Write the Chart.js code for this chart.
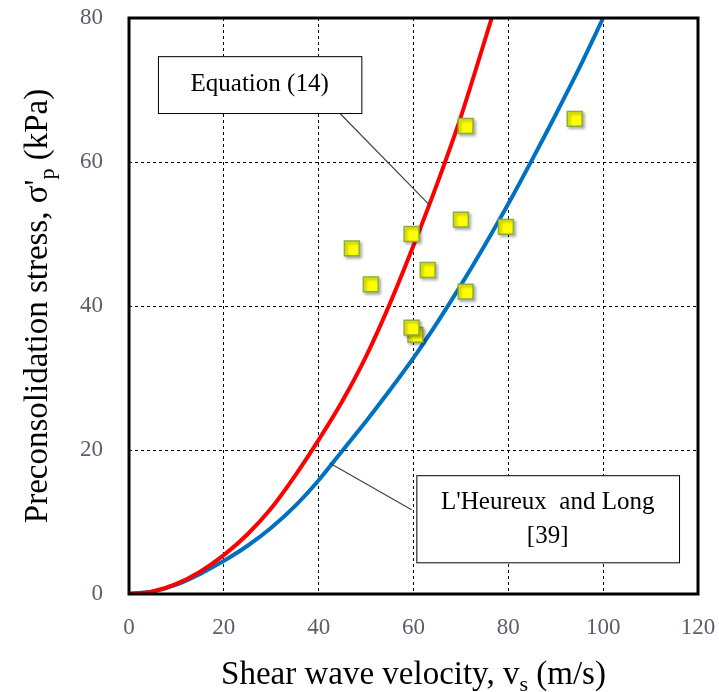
<!DOCTYPE html>
<html>
<head>
<meta charset="utf-8">
<script src="https://cdn.jsdelivr.net/npm/chart.js@4.4.1/dist/chart.umd.min.js"></script>
<style>
  html, body { margin: 0; padding: 0; background: #fff; }
  #wrap { width: 719px; height: 692px; }
</style>
</head>
<body>
<div id="wrap"><canvas id="chart" width="719" height="692"></canvas></div>
<script>
// measured points
let pointVs = [71, 94, 70, 79.5, 59.6, 47, 63, 51, 71, 60.4, 59.6];
let pointSigma = [65, 66, 52, 51, 50, 48, 45, 43, 42, 36, 37];

// Equation (14) curve
let eqVs = [0, 5, 10, 15, 20, 25, 30, 35, 40, 45, 50, 55, 60, 65, 70, 76.5];
let eqSigma = [0, 0.35, 1.4, 3.1, 5.4, 8.3, 11.9, 16.4, 21.4, 26.8, 33, 40.3, 48.4, 57, 66.3, 80];

// L'Heureux and Long curve
let lhVs = [0, 5, 10, 15, 20, 25, 30, 35, 40, 45, 50, 55, 60, 65, 70, 75, 80, 85, 90, 95, 100];
let lhSigma = [0, 0.35, 1.3, 2.8, 4.6, 6.7, 9.2, 12.2, 15.8, 19.9, 24, 28.3, 32.8, 37.7, 42.9, 48.4, 54.2, 60.3, 66.6, 73.1, 80];

let xTicks = [0, 20, 40, 60, 80, 100, 120];
let yTicks = [0, 20, 40, 60, 80];

let serif = "'Liberation Serif', 'Times New Roman', serif";
let tickColor = "#5a5e6b";

function toXY(xs, ys) {
  return xs.map((x, i) => ({ x: x, y: ys[i] }));
}

// text with a subscript, centred on x
function drawParts(ctx, parts, x, y, size, sub) {
  let total = 0;
  parts.forEach(p => {
    ctx.font = (p.sub ? sub : size) + "px " + serif;
    total += ctx.measureText(p.t).width;
  });
  let cx = x - total / 2;
  parts.forEach(p => {
    ctx.font = (p.sub ? sub : size) + "px " + serif;
    ctx.fillText(p.t, cx, y + (p.sub ? 7 : 0));
    cx += ctx.measureText(p.t).width;
  });
}

function noPad(s) {
  s.paddingLeft = 0;
  s.paddingRight = 0;
  s.paddingTop = 0;
  s.paddingBottom = 0;
}

let extras = {
  id: "extras",
  beforeDatasetDraw(chart, args) {
    if (args.index === 0) {
      let ctx = chart.ctx;
      ctx.save();
      ctx.shadowColor = "rgba(0,0,0,0.35)";
      ctx.shadowBlur = 3;
      ctx.shadowOffsetX = 2;
      ctx.shadowOffsetY = 2;
    }
  },
  afterDatasetDraw(chart, args) {
    if (args.index === 0) chart.ctx.restore();
  },
  afterDatasetsDraw(chart) {
    let ctx = chart.ctx;
    let xs = chart.scales.x, ys = chart.scales.y;
    let a = chart.chartArea;
    let px = v => xs.getPixelForValue(v);
    let py = v => ys.getPixelForValue(v);

    ctx.save();
    // leader lines
    ctx.strokeStyle = "#444";
    ctx.lineWidth = 1.2;
    ctx.beginPath();
    ctx.moveTo(px(44.4), py(66.8));
    ctx.lineTo(px(63.4), py(54.0));
    ctx.moveTo(px(42.3), py(18.2));
    ctx.lineTo(px(59.6), py(11.7));
    ctx.stroke();

    // boxes
    ctx.fillStyle = "#fff";
    ctx.strokeStyle = "#000";
    ctx.lineWidth = 1;
    let b1 = [px(6.1), py(74.7), px(49), py(66.8)];
    let b2 = [px(60.6), py(16.5), px(116), py(4.4)];
    [b1, b2].forEach(b => {
      ctx.fillRect(b[0], b[1], b[2] - b[0], b[3] - b[1]);
      ctx.strokeRect(b[0] + 0.5, b[1] + 0.5, b[2] - b[0], b[3] - b[1]);
    });
    ctx.fillStyle = "#000";
    ctx.font = "25px " + serif;
    ctx.textAlign = "center";
    ctx.textBaseline = "middle";
    ctx.fillText("Equation (14)", (b1[0] + b1[2]) / 2, (b1[1] + b1[3]) / 2);
    let c2 = (b2[0] + b2[2]) / 2, m2 = (b2[1] + b2[3]) / 2;
    ctx.fillText("L'Heureux  and Long", c2, m2 - 16);
    ctx.fillText("[39]", c2, m2 + 18);

    // plot frame
    ctx.lineWidth = 3;
    ctx.strokeRect(a.left, a.top, a.right - a.left, a.bottom - a.top);

    // axis titles with subscripts
    ctx.textAlign = "left";
    ctx.textBaseline = "alphabetic";
    drawParts(ctx, [
      { t: "Shear wave velocity, v" },
      { t: "s", sub: true },
      { t: " (m/s)" }
    ], (a.left + a.right) / 2, 684, 33, 22);

    ctx.translate(47, (a.top + a.bottom) / 2);
    ctx.rotate(-Math.PI / 2);
    drawParts(ctx, [
      { t: "Preconsolidation stress, \u03c3'" },
      { t: "p", sub: true },
      { t: " (kPa)" }
    ], 0, 0, 33, 22);
    ctx.restore();
  }
};

let chart = new Chart(document.getElementById("chart").getContext("2d"), {
  type: "scatter",
  data: {
    datasets: [
      {
        label: "Measured",
        data: toXY(pointVs, pointSigma),
        pointStyle: "rect",
        pointRadius: 10.5,
        pointHoverRadius: 10.5,
        backgroundColor: "#ffff00",
        borderColor: "#8aae3e",
        borderWidth: 1.5,
      },
      {
        label: "Equation (14)",
        data: toXY(eqVs, eqSigma),
        showLine: true,
        borderColor: "#ff0000",
        borderWidth: 4,
        pointRadius: 0,
        tension: 0.3,
      },
      {
        label: "L'Heureux and Long [39]",
        data: toXY(lhVs, lhSigma),
        showLine: true,
        borderColor: "#0070c0",
        borderWidth: 4,
        pointRadius: 0,
        tension: 0.3,
      },
    ],
  },
  options: {
    responsive: false,
    animation: false,
    layout: {
      padding: { left: 0, top: 18, right: 21, bottom: 0 },
    },
    plugins: {
      legend: { display: false },
      tooltip: { enabled: false },
    },
    scales: {
      x: {
        type: "linear",
        min: 0,
        max: 120,
        afterBuildTicks: s => { s.ticks = xTicks.map(v => ({ value: v })); },
        afterFit: s => { s.height = 98; noPad(s); },
        border: { display: false, dash: [3, 3] },
        grid: {
          color: "#000",
          lineWidth: 1,
          drawTicks: false,
        },
        ticks: {
          padding: 20,
          color: tickColor,
          font: { family: serif, size: 23 },
        },
      },
      y: {
        type: "linear",
        min: 0,
        max: 80,
        afterBuildTicks: s => { s.ticks = yTicks.map(v => ({ value: v })); },
        afterFit: s => { s.width = 129; noPad(s); },
        border: { display: false, dash: [3, 3] },
        grid: {
          color: "#000",
          lineWidth: 1,
          drawTicks: false,
        },
        ticks: {
          padding: 26,
          color: tickColor,
          font: { family: serif, size: 23 },
        },
      },
    },
  },
  plugins: [extras],
});
</script>
</body>
</html>
